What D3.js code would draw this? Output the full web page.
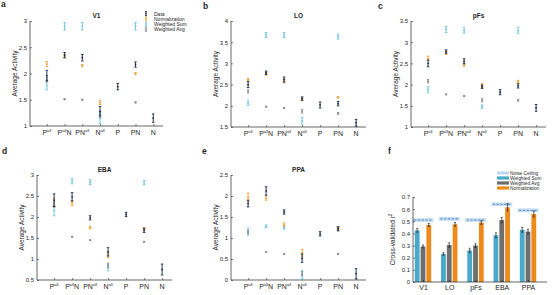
<!DOCTYPE html>
<html><head><meta charset="utf-8">
<script src="https://cdn.jsdelivr.net/npm/d3@7"></script>
<style>body{margin:0;background:#fff}svg{display:block}text{font-family:"Liberation Sans",Arial,Helvetica,sans-serif;fill:#262626}</style>
</head><body><svg id="c" width="552" height="295"></svg>
<script>
// ---------- data ----------
const categories = ["P^all","P^allN","PN^all","N^all","P","PN","N"];
const regions = ["V1","LO","pFs","EBA","PPA"];
const seriesNames = ["Data","Normalization","Weighted Sum","Weighted Avg"];

const ticksV1 = [1,1.5,2,2.5,3];
const ticksLO = [1.5,2,2.5,3,3.5,4];
const ticksPFs = [1,1.5,2,2.5,3,3.5];
const ticksEBA = [0.5,1,1.5,2,2.5,3];
const ticksPPA = [0,0.5,1,1.5,2,2.5];

// V1
const dataV1 = [1.96,2.35,2.30,1.28,1.75,2.17,1.15];
const dataErrV1 = [0.10,0.05,0.06,0.09,0.06,0.05,0.08];
const normV1 = [2.18,2.33,2.15,1.45,null,2.00,null];
const normErrV1 = [0.05,0.03,0.02,0.04,null,0.02,null];
const wsV1 = [1.77,2.90,2.90,1.15,null,2.90,null];
const wsErrV1 = [0.08,0.07,0.07,0.10,null,0.07,null];
const waV1 = [1.88,1.51,1.50,1.22,null,1.45,null];
const waErrV1 = [0.04,0.01,0.01,0.06,null,0.01,null];
// LO
const dataLO = [2.50,2.78,2.62,2.17,2.02,2.05,1.60];
const dataErrLO = [0.07,0.04,0.06,0.04,0.07,0.05,0.08];
const normLO = [2.62,2.75,2.58,2.15,null,2.20,null];
const normErrLO = [0.03,0.03,0.04,0.03,null,0.02,null];
const wsLO = [2.07,3.67,3.67,1.65,null,3.63,null];
const wsErrLO = [0.06,0.06,0.06,0.08,null,0.06,null];
const waLO = [2.34,1.98,1.95,1.87,null,1.82,null];
const waErrLO = [0.04,0.01,0.01,0.04,null,0.02,null];
// pFs
const dataPFs = [2.50,2.78,2.55,1.95,1.82,1.97,1.45];
const dataErrPFs = [0.08,0.04,0.06,0.04,0.06,0.05,0.08];
const normPFs = [2.62,2.75,2.47,1.98,null,2.07,null];
const normErrPFs = [0.05,0.04,0.04,0.05,null,0.03,null];
const wsPFs = [1.88,3.30,3.28,1.48,null,3.28,null];
const wsErrPFs = [0.07,0.07,0.07,0.04,null,0.07,null];
const waPFs = [2.08,1.77,1.73,1.63,null,1.63,null];
const waErrPFs = [0.04,0.01,0.01,0.04,null,0.02,null];
// EBA
const dataEBA = [2.40,2.48,1.98,1.17,2.06,1.68,0.75];
const dataErrEBA = [0.15,0.10,0.05,0.10,0.05,0.05,0.13];
const normEBA = [2.35,2.33,1.75,1.10,null,1.72,null];
const normErrEBA = [0.10,0.06,0.03,0.07,null,0.03,null];
const wsEBA = [2.15,2.85,2.83,0.80,null,2.82,null];
const wsErrEBA = [0.12,0.06,0.06,0.08,null,0.05,null];
const waEBA = [2.28,1.53,1.45,0.85,null,1.41,null];
const waErrEBA = [0.05,0.01,0.01,0.05,null,0.01,null];
// PPA
const dataPPA = [1.82,2.12,1.62,0.52,1.10,1.22,0.15];
const dataErrPPA = [0.08,0.10,0.05,0.10,0.05,0.05,0.12];
const normPPA = [1.97,1.95,1.32,0.65,null,1.22,null];
const normErrPPA = [0.10,0.05,0.04,0.08,null,0.03,null];
const wsPPA = [1.15,1.28,1.25,0.12,null,1.22,null];
const wsErrPPA = [0.08,0.03,0.04,0.10,null,0.04,null];
const waPPA = [1.14,0.67,0.62,0.15,null,0.62,null];
const waErrPPA = [0.04,0.01,0.01,0.05,null,0.01,null];

// panel f
const fGroups = ["V1","LO","pFs","EBA","PPA"];
const fSeries = ["Noise Ceiling","Weighted Sum","Weighted Avg","Normalization"];
const noiseCeiling = [0.51,0.52,0.51,0.64,0.59];
const wsR2 = [0.425,0.232,0.260,0.385,0.430];
const wsR2Err = [0.015,0.012,0.018,0.020,0.020];
const waR2 = [0.292,0.305,0.300,0.510,0.415];
const waR2Err = [0.012,0.018,0.015,0.022,0.020];
const normR2 = [0.470,0.475,0.490,0.615,0.560];
const normR2Err = [0.012,0.015,0.015,0.030,0.025];
const ticksF = [0,0.1,0.2,0.3,0.4,0.5,0.6,0.7];

// ---------- style ----------
const dataColor = "#1b2a48", normColor = "#f0a236", wsColor = "#6cc4da", waColor = "#8a8a8a";
const fWsColor = "#4aa8c9", fWaColor = "#6e6e6e", fNormColor = "#ec8a1c";
const axisColor = "#262626";

const svg = d3.select("#c");

const panels = [
  {letter:"a", lx:1, ly:7, title:"V1", x0:30, w:133, y0:21, y1:126, ticks:ticksV1,
   s:[dataV1,dataErrV1,normV1,normErrV1,wsV1,wsErrV1,waV1,waErrV1], legend:true},
  {letter:"b", lx:203, ly:9, title:"LO", x0:231, w:135, y0:21, y1:127, ticks:ticksLO,
   s:[dataLO,dataErrLO,normLO,normErrLO,wsLO,wsErrLO,waLO,waErrLO]},
  {letter:"c", lx:378, ly:9, title:"pFs", x0:411, w:135, y0:21, y1:127, ticks:ticksPFs,
   s:[dataPFs,dataErrPFs,normPFs,normErrPFs,wsPFs,wsErrPFs,waPFs,waErrPFs]},
  {letter:"d", lx:2, ly:154, title:"EBA", x0:37, w:135, y0:175, y1:280, ticks:ticksEBA,
   s:[dataEBA,dataErrEBA,normEBA,normErrEBA,wsEBA,wsErrEBA,waEBA,waErrEBA]},
  {letter:"e", lx:202, ly:154, title:"PPA", x0:231, w:135, y0:175, y1:280, ticks:ticksPPA,
   s:[dataPPA,dataErrPPA,normPPA,normErrPPA,wsPPA,wsErrPPA,waPPA,waErrPPA]}
];

function labelText(sel, lab, size) {
  const m = lab.match(/^([^\^]*)\^(all)(.*)$/);
  if (!m) { sel.text(lab); return; }
  sel.append("tspan").text(m[1]);
  sel.append("tspan").attr("font-size", size*0.6).attr("dy", -size*0.4).text(m[2]);
  if (m[3]) sel.append("tspan").attr("font-size", size).attr("dy", size*0.4).text(m[3]);
}

function drawErr(g, x, y, means, errs, color, cap) {
  const pts = means.map((m,i)=>({i, m, e: errs[i]})).filter(d => d.m != null);
  const gg = g.append("g").attr("stroke", color).attr("stroke-width", 0.9);
  gg.selectAll(".v").data(pts).join("line")
    .attr("x1", d=>x(d.i+1)).attr("x2", d=>x(d.i+1))
    .attr("y1", d=>y(d.m-d.e)).attr("y2", d=>y(d.m+d.e));
  gg.selectAll(".t").data(pts).join("line")
    .attr("x1", d=>x(d.i+1)-cap).attr("x2", d=>x(d.i+1)+cap)
    .attr("y1", d=>y(d.m+d.e)).attr("y2", d=>y(d.m+d.e));
  gg.selectAll(".b").data(pts).join("line")
    .attr("x1", d=>x(d.i+1)-cap).attr("x2", d=>x(d.i+1)+cap)
    .attr("y1", d=>y(d.m-d.e)).attr("y2", d=>y(d.m-d.e));
  g.append("g").attr("fill", color).selectAll("circle").data(pts).join("circle")
    .attr("cx", d=>x(d.i+1)).attr("cy", d=>y(d.m)).attr("r", 0.9);
}

panels.forEach(p => {
  const g = svg.append("g");
  const x = d3.scaleLinear().domain([0.05, 7.55]).range([p.x0, p.x0 + p.w]);
  const y = d3.scaleLinear().domain([p.ticks[0], p.ticks[p.ticks.length-1]]).range([p.y1, p.y0]);

  // axes
  const ya = g.append("g").attr("transform", `translate(${p.x0},0)`)
    .call(d3.axisLeft(y).tickValues(p.ticks).tickSize(-2).tickPadding(3).tickFormat(d3.format("")));
  ya.select(".domain").remove();
  ya.selectAll("line").attr("stroke", axisColor).attr("stroke-width", 0.6);
  ya.selectAll("text").attr("font-size", 6).attr("fill", axisColor);
  g.append("line").attr("x1", p.x0).attr("x2", p.x0).attr("y1", p.y0).attr("y2", p.y1)
    .attr("stroke", axisColor).attr("stroke-width", 0.7);

  const xa = g.append("g").attr("transform", `translate(0,${p.y1})`)
    .call(d3.axisBottom(x).tickValues(d3.range(1, 8)).tickSize(-2).tickPadding(4).tickFormat(""));
  xa.select(".domain").remove();
  xa.selectAll("line").attr("stroke", axisColor).attr("stroke-width", 0.6);
  g.append("line").attr("x1", p.x0).attr("x2", p.x0 + p.w).attr("y1", p.y1).attr("y2", p.y1)
    .attr("stroke", axisColor).attr("stroke-width", 0.7);
  categories.forEach((c, i) => {
    const t = g.append("text").attr("x", x(i+1)).attr("y", p.y1 + 9)
      .attr("text-anchor", "middle").attr("font-size", 7);
    labelText(t, c, 7);
  });

  g.append("text").attr("transform", `translate(${p.x0-16},${(p.y0+p.y1)/2}) rotate(-90)`)
    .attr("text-anchor", "middle").attr("dominant-baseline", "central")
    .attr("font-size", 6.5).text("Average Activity");
  g.append("text").attr("x", p.x0 + p.w/2).attr("y", p.y0 - 3).attr("text-anchor", "middle")
    .attr("font-size", 6.5).attr("font-weight", "bold").text(p.title);
  svg.append("text").attr("x", p.lx).attr("y", p.ly).attr("font-size", 8.5)
    .attr("font-weight", "bold").attr("fill", "#000").text(p.letter);

  const s = p.s;
  drawErr(g, x, y, s[4], s[5], wsColor, 1.3);
  drawErr(g, x, y, s[6], s[7], waColor, 1.1);
  drawErr(g, x, y, s[2], s[3], normColor, 1.3);
  drawErr(g, x, y, s[0], s[1], dataColor, 1.3);

  if (p.legend) {
    const cols = [dataColor, normColor, wsColor, waColor];
    seriesNames.forEach((n, k) => {
      const ly = 13.5 + k*5.3;
      const lg = g.append("g");
      lg.append("line").attr("x1", 146).attr("x2", 146).attr("y1", ly-2).attr("y2", ly+2)
        .attr("stroke", cols[k]).attr("stroke-width", 0.9);
      lg.append("line").attr("x1", 145).attr("x2", 147).attr("y1", ly-2).attr("y2", ly-2).attr("stroke", cols[k]).attr("stroke-width", 0.8);
      lg.append("line").attr("x1", 145).attr("x2", 147).attr("y1", ly+2).attr("y2", ly+2).attr("stroke", cols[k]).attr("stroke-width", 0.8);
      lg.append("circle").attr("cx", 146).attr("cy", ly).attr("r", 0.8).attr("fill", cols[k]);
      lg.append("text").attr("x", 154).attr("y", ly).attr("dominant-baseline", "central")
        .attr("font-size", 5).text(n);
    });
  }
});

// ---------- panel f ----------
(function(){
  const g = svg.append("g");
  const x0 = 413, x1 = 547, yTop = 197, yBot = 282;
  const x = d3.scalePoint().domain(fGroups).range([423, 528]);
  const y = d3.scaleLinear().domain([0, 0.7]).range([yBot, yTop]);
  const off = 5.8, bw = 4.8;

  // noise ceiling
  g.selectAll(".nc").data(noiseCeiling).join("rect")
    .attr("x", (d,i)=>x(fGroups[i]) - 10.5).attr("width", 21)
    .attr("y", d=>y(d)-2).attr("height", 4).attr("fill", "#c9e1f3");
  g.selectAll(".ncl").data(noiseCeiling).join("line")
    .attr("x1", (d,i)=>x(fGroups[i]) - 9).attr("x2", (d,i)=>x(fGroups[i]) + 9)
    .attr("y1", d=>y(d)).attr("y2", d=>y(d))
    .attr("stroke", "#4b78b4").attr("stroke-width", 0.9).attr("stroke-dasharray", "2.4,1.4");

  const sets = [[wsR2, wsR2Err, fWsColor, -off], [waR2, waR2Err, fWaColor, 0], [normR2, normR2Err, fNormColor, off]];
  sets.forEach(([vals, errs, col, o]) => {
    g.append("g").selectAll("rect").data(vals).join("rect")
      .attr("x", (d,i)=>x(fGroups[i]) + o - bw/2).attr("width", bw)
      .attr("y", d=>y(d)).attr("height", d=>yBot - y(d)).attr("fill", col);
    const eg = g.append("g").attr("stroke", "#222").attr("stroke-width", 0.7);
    vals.forEach((d,i) => {
      const cx = x(fGroups[i]) + o;
      eg.append("line").attr("x1", cx).attr("x2", cx).attr("y1", y(d-errs[i])).attr("y2", y(d+errs[i]));
      eg.append("line").attr("x1", cx-1).attr("x2", cx+1).attr("y1", y(d+errs[i])).attr("y2", y(d+errs[i]));
      eg.append("line").attr("x1", cx-1).attr("x2", cx+1).attr("y1", y(d-errs[i])).attr("y2", y(d-errs[i]));
    });
  });

  const ya = g.append("g").attr("transform", `translate(${x0},0)`)
    .call(d3.axisLeft(y).tickValues(ticksF).tickSize(-2).tickPadding(3).tickFormat(d3.format("")));
  ya.select(".domain").remove();
  ya.selectAll("line").attr("stroke", axisColor).attr("stroke-width", 0.6);
  ya.selectAll("text").attr("font-size", 6).attr("fill", axisColor);
  g.append("line").attr("x1", x0).attr("x2", x0).attr("y1", yTop).attr("y2", yBot).attr("stroke", axisColor).attr("stroke-width", 0.7);

  const xa = g.append("g").attr("transform", `translate(0,${yBot})`)
    .call(d3.axisBottom(x).tickSize(-2).tickPadding(3));
  xa.select(".domain").remove();
  xa.selectAll("line").attr("stroke", axisColor).attr("stroke-width", 0.6);
  xa.selectAll("text").attr("font-size", 7).attr("fill", axisColor);
  g.append("line").attr("x1", x0).attr("x2", x1).attr("y1", yBot).attr("y2", yBot).attr("stroke", axisColor).attr("stroke-width", 0.7);

  const yl = g.append("text").attr("transform", `translate(392,${(yTop+yBot)/2}) rotate(-90)`)
    .attr("text-anchor", "middle").attr("dominant-baseline", "central").attr("font-size", 6.5);
  yl.append("tspan").text("Cross-validated r");
  yl.append("tspan").attr("font-size", 4.5).attr("dy", -2.5).text("2");

  svg.append("text").attr("x", 388).attr("y", 154).attr("font-size", 8.5)
    .attr("font-weight", "bold").attr("fill", "#000").text("f");

  // legend
  const lcols = ["#c9e1f3", fWsColor, fWaColor, fNormColor];
  fSeries.forEach((n, k) => {
    const ly = 173 + k*5;
    g.append("rect").attr("x", 497).attr("y", ly-1.6).attr("width", 12).attr("height", 3.2).attr("fill", lcols[k]);
    if (k === 0) g.append("line").attr("x1", 497.5).attr("x2", 508.5).attr("y1", ly).attr("y2", ly)
      .attr("stroke", "#7aa7d3").attr("stroke-width", 0.6).attr("stroke-dasharray", "1.5,1");
    g.append("text").attr("x", 510).attr("y", ly).attr("dominant-baseline", "central")
      .attr("font-size", 4.8).text(n);
  });
})();
</script>
</body></html>
